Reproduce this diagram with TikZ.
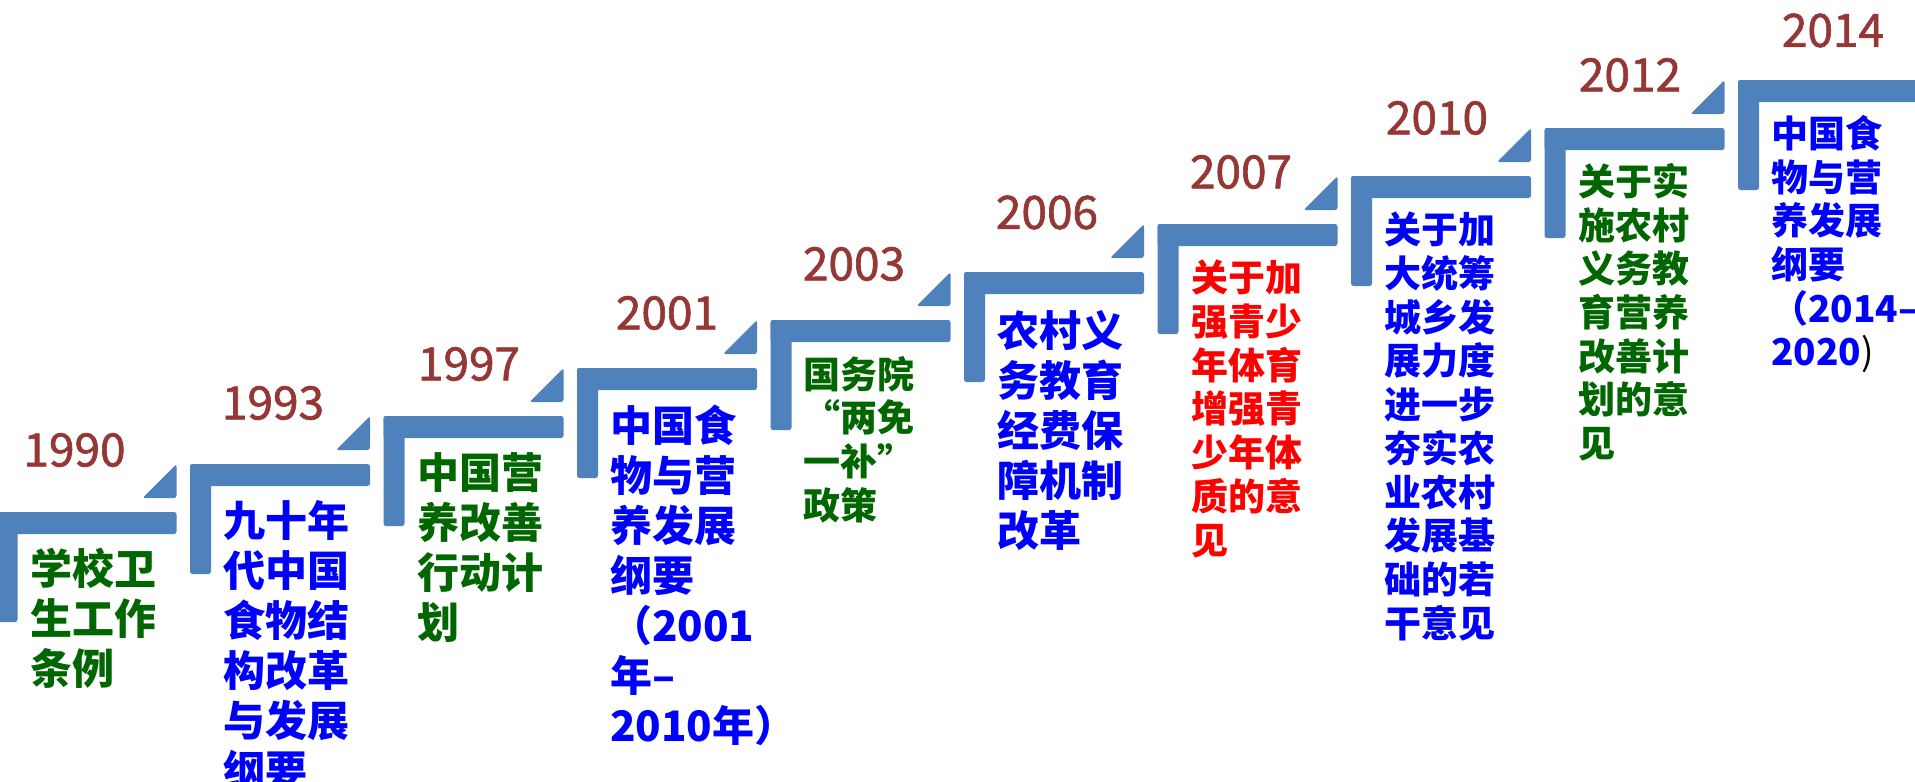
\documentclass[tikz,border=0pt]{standalone}
\usepackage{fontspec}
\newfontfamily\cjk{Noto Sans CJK SC}
\newfontfamily\yearfont[BoldFont={Noto Sans CJK SC}, BoldFeatures={FakeBold=1.4}]{Noto Sans CJK SC}
\definecolor{barblue}{HTML}{4F81BD}
\definecolor{yearred}{HTML}{953735}
\definecolor{tgreen}{HTML}{006600}
\definecolor{tblue}{HTML}{0000FF}
\definecolor{tred}{HTML}{FF0000}
\begin{document}
\begin{tikzpicture}[x=1pt,y=-1pt,
  bar/.style={fill=barblue, rounded corners=2.5pt},
  yearlbl/.style={text=yearred, font=\yearfont\bfseries\fontsize{46}{46}\selectfont, inner sep=0pt, anchor=center},
  bigtxt/.style={font=\cjk\bfseries\fontsize{42}{50}\selectfont, align=left, inner sep=0pt, anchor=north west},
  smalltxt/.style={font=\cjk\bfseries\fontsize{37}{43.7}\selectfont, align=left, inner sep=0pt, anchor=north west}]
\clip (0,0) rectangle (1915,782);
\fill[white] (0,0) rectangle (1915,782);
\foreach \i in {0,...,8}{
  \pgfmathsetmacro\L{-3.5+193.5*\i}
  \pgfmathsetmacro\T{512-48*\i}
  \fill[bar] (\L,\T) rectangle ++(180,22);
  \fill[bar] (\L,\T) rectangle ++(21,110);
  \fill[bar] (\L+146,\T-14) -- (\L+180,\T-48) -- (\L+180,\T-14) -- cycle;
}
\fill[bar] (1738,80) rectangle (1935,102);
\fill[bar] (1738,80) rectangle ++(21,110);
% years
\node[yearlbl] (y1990) at (74.5,450) {1990};
\node[yearlbl] (y1993) at (273,403) {1993};
\node[yearlbl] (y1997) at (469,364) {1997};
\node[yearlbl] (y2001) at (667,313) {2001};
\node[yearlbl] (y2003) at (854,264) {2003};
\node[yearlbl] (y2006) at (1047,212.5) {2006};
\node[yearlbl] (y2007) at (1241,172) {2007};
\node[yearlbl] (y2010) at (1437,118) {2010};
\node[yearlbl] (y2012) at (1630,75) {2012};
\node[yearlbl] (y2014) at (1833,30.5) {2014};
% texts
\node[bigtxt, text=tgreen] (t1990) at (30,548) {学校卫\\生工作\\条例};
\node[bigtxt, text=tblue] (t1993) at (223,500) {九十年\\代中国\\食物结\\构改革\\与发展\\纲要};
\node[bigtxt, text=tgreen] (t1997) at (417,452) {中国营\\养改善\\行动计\\划};
\node[bigtxt, text=tblue] (t2001) at (610,405) {中国食\\物与营\\养发展\\纲要\\（2001\\年–\\2010年）};
\node[smalltxt, text=tgreen] (t2003) at (803,356) {国务院\\“两免\\一补”\\政策};
\node[bigtxt, text=tblue] (t2006) at (997,310) {农村义\\务教育\\经费保\\障机制\\改革};
\node[smalltxt, text=tred] (t2007) at (1191,260) {关于加\\强青少\\年体育\\增强青\\少年体\\质的意\\见};
\node[smalltxt, text=tblue] (t2010) at (1384,212) {关于加\\大统筹\\城乡发\\展力度\\进一步\\夯实农\\业农村\\发展基\\础的若\\干意见};
\node[smalltxt, text=tgreen] (t2012) at (1578,163) {关于实\\施农村\\义务教\\育营养\\改善计\\划的意\\见};
\node[smalltxt, text=tblue] (t2014) at (1771,115) {中国食\\物与营\\养发展\\纲要\\（2014–\\2020\textcolor{black}{\mdseries )}};
\end{tikzpicture}
\end{document}
